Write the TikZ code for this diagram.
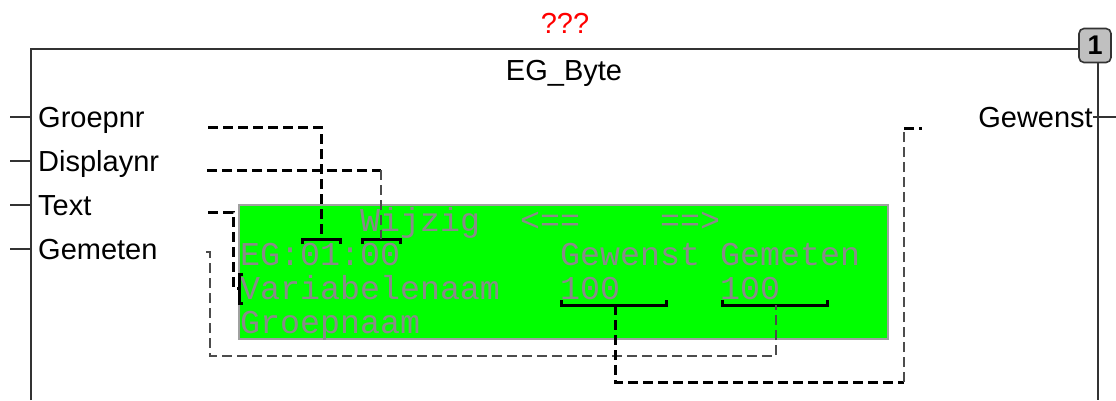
\documentclass[tikz,border=0pt]{standalone}
\usepackage{fontspec}
\setmainfont{Liberation Sans}
\newfontfamily\lcdfont{Liberation Mono}
\definecolor{lcdgreen}{HTML}{00FF00}
\definecolor{lcdgray}{HTML}{8A8A8A}
\definecolor{lcdborder}{HTML}{A0A0A0}
\definecolor{badgegray}{HTML}{C0C0C0}
\begin{document}
\begin{tikzpicture}[x=1pt,y=-1pt,
  blk/.style={draw=black!80,line width=1.6pt},
  lbl/.style={font=\fontsize{29}{30}\selectfont,inner sep=0pt},
  pinlbl/.style={lbl,anchor=base west},
  lcdtxt/.style={font=\lcdfont\fontsize{33.3}{34}\selectfont,text=lcdgray,inner sep=0pt,anchor=base west},
  thk/.style={draw=black,line width=3pt,dash pattern=on 10pt off 5pt},
  thn/.style={draw=black!70,line width=1.8pt,dash pattern=on 10pt off 5pt},
  brk/.style={draw=black,line width=3pt},
]
\useasboundingbox (0,0) rectangle (1116,400);

% title texts
\node[lbl,text=red,anchor=base] (qm) at (565,33) {???};
\node[lbl,anchor=base] (title) at (564,80) {EG\_Byte};

% badge and block outline
\node[draw=black!80,line width=1.6pt,fill=badgegray,rounded corners=5pt,
      minimum width=32pt,minimum height=34pt,inner sep=0pt,
      font=\bfseries\fontsize{27}{27}\selectfont] (badge) at (1095,45.5) {1};
\coordinate (blbot) at (31,400);
\coordinate (bltop) at (31,49);
\coordinate (brtop) at (1098,62.5);
\coordinate (brbot) at (1098,400);
\draw[blk] (blbot) -- (bltop) -- (bltop -| badge.west);
\draw[blk] (brtop) -- (brbot);

% input pins
\foreach \n/\y/\t in {p1/117/Groepnr,p2/161/Displaynr,p3/205/Text,p4/249/Gemeten}{
  \coordinate (\n a) at (10,\y);
  \coordinate (\n b) at (31,\y);
  \draw[blk] (\n a) -- (\n b);
  \node[pinlbl] (\n l) at (38,\y+10) {\t};
}
% output pin
\node[lbl,anchor=base east] (outl) at (1093,127) {Gewenst};
\coordinate (o1a) at (1093,117);
\coordinate (o1b) at (1116,117);
\draw[blk] (o1a) -- (o1b);

% LCD
\node[draw=lcdborder,fill=lcdgreen,line width=1.5pt,minimum width=649pt,
      minimum height=134pt,inner sep=0pt,anchor=north west] (lcd) at (238,204) {};
\node[lcdtxt] (w1) at (240+6*20,231) {Wijzig};
\node[lcdtxt] (w2) at (240+14*20,231) {<==};
\node[lcdtxt] (w3) at (240+21*20,231) {==>};
\node[lcdtxt] (w4) at (240,265) {EG:01:00};
\node[lcdtxt] (w5) at (240+16*20,265) {Gewenst};
\node[lcdtxt] (w6) at (240+24*20,265) {Gemeten};
\node[lcdtxt] (w7) at (240,299) {Variabelenaam};
\node[lcdtxt] (w8) at (240+16*20,299) {100};
\node[lcdtxt] (w9) at (240+24*20,299) {100};
\node[lcdtxt] (w10) at (240,333) {Groepnaam};

% field brackets
\coordinate (f1) at (321,239);
\draw[brk] (302,244) -- (302,239) -- (340,239) -- (340,244);
\coordinate (f2) at (381,239);
\draw[brk] (362,244) -- (362,239) -- (400,239) -- (400,244);
\coordinate (f3) at (615,305);
\draw[brk] (561,300) -- (561,305) -- (666,305) -- (666,300);
\coordinate (f4) at (776,305);
\draw[brk] (722,300) -- (722,305) -- (827,305) -- (827,300);
\coordinate (f5) at (239,288);
\draw[brk] (243,274) -- (239,274) -- (239,303) -- (243,303);

% connectors
\coordinate (c1) at (208,127);
\draw[thk] (c1) -| (f1);
\coordinate (c2) at (207,170);
\coordinate (c2k) at (381,170);
\draw[thk] (c2) -- (c2k);
\draw[thn] (c2k) -- (f2);
\coordinate (c3) at (208,212);
\coordinate (c3k) at (233,212);
\draw[thk] (c3) -- (c3k) -- (233,288) -- (f5);
\coordinate (c4) at (206,252);
\draw[thn] (c4) -- (210,252) -- (210,356) -| (f4);
\coordinate (c5) at (904,382);
\coordinate (c5t) at (904,128);
\coordinate (c5e) at (922,128);
\draw[thk] (f3) |- (c5);
\draw[thn] (c5) -- (c5t);
\draw[thk] (c5t) -- (c5e);
\end{tikzpicture}
\end{document}
